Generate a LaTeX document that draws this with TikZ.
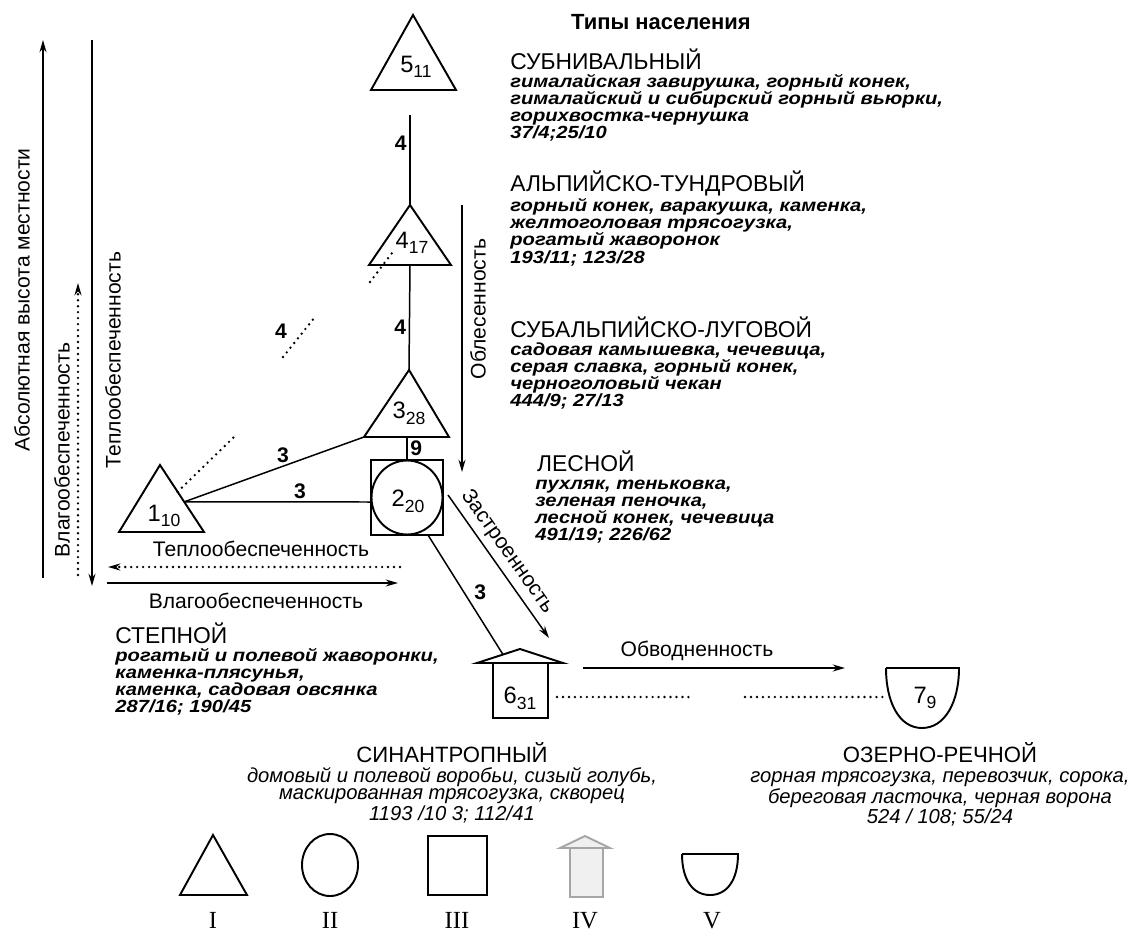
\documentclass[tikz,border=0pt]{standalone}
\usepackage{fontspec}
\setmainfont{Liberation Sans}
\newfontfamily\widefont[FakeStretch=1.15]{Liberation Sans}
\newfontfamily\serifroman{Liberation Serif}
\usetikzlibrary{arrows.meta,calc}

\newcommand{\spf}{\widefont\bfseries\itshape\fontsize{10}{9.8}\selectfont}
\newcommand{\hdf}{\normalfont\fontsize{13}{9.8}\selectfont}
\newcommand{\capf}{\itshape\fontsize{11.5}{9.9}\selectfont}
\newcommand{\caphd}{\upshape\fontsize{12.6}{9.9}\selectfont}
\newcommand{\idxsub}[1]{\raisebox{-0.45ex}{\fontsize{10}{10}\selectfont#1}}

\begin{document}
\begin{tikzpicture}[x=0.02cm,y=-0.02cm,
    figure/.style={line width=1.1pt,line join=miter},
    link/.style={line width=0.85pt},
    dotline/.style={line width=1.5pt,line cap=round,dash pattern=on 0pt off 3.4pt},
    dotarrow/.style={dotline,-{Stealth[length=7pt,width=4pt]}},
    axisarrow/.style={line width=0.85pt,-{Stealth[length=7pt,width=4pt]}},
    num/.style={font=\fontsize{12}{12}\selectfont\bfseries,inner sep=1.5pt},
    idx/.style={font=\fontsize{13.5}{13.5}\selectfont,inner sep=0pt},
    axistext/.style={font=\fontsize{12}{12}\selectfont,inner sep=0pt},
    block/.style={anchor=north west,align=left,inner sep=0pt,font=\spf},
    caption/.style={anchor=north,align=center,inner sep=0pt,font=\capf},
    roman/.style={font=\serifroman\fontsize{14}{14}\selectfont,inner sep=0pt,anchor=base}]

  \useasboundingbox (0,0) rectangle (1146,933);

  % axes on the left
  \coordinate (v1a) at (43,578);
  \coordinate (v1b) at (43,40);
  \coordinate (v2a) at (78,575);
  \coordinate (v2b) at (78,283);
  \coordinate (v3a) at (92,40);
  \coordinate (v3b) at (92,586);
  \coordinate (h1a) at (400,567);
  \coordinate (h1b) at (108,567);
  \coordinate (h2a) at (107,583);
  \coordinate (h2b) at (398,583);

  \draw[axisarrow] (v1a) -- (v1b);
  \node[axistext,rotate=90] (alt) at (22,300) {Абсолютная высота местности};
  \draw[dotarrow] (v2a) -- (v2b);
  \node[axistext,rotate=90] (wetv) at (62,450) {Влагообеспеченность};
  \draw[axisarrow] (v3a) -- (v3b);
  \node[axistext,rotate=90] (heatv) at (113,360) {Теплообеспеченность};
  \draw[dotarrow] (h1a) -- (h1b);
  \node[axistext] (heath) at (261,549) {Теплообеспеченность};
  \draw[axisarrow] (h2a) -- (h2b);
  \node[axistext] (weth) at (256,601) {Влагообеспеченность};

  % population types
  \coordinate (t5) at (413,15);
  \coordinate (t5l) at (371,90);
  \coordinate (t5r) at (456,90);
  \coordinate (t5b) at (410,90);
  \coordinate (t4) at (410,205);
  \coordinate (t4l) at (369,265);
  \coordinate (t4r) at (451,265);
  \coordinate (t4b) at (410,265);
  \coordinate (t3) at (409,370);
  \coordinate (t3l) at (364,437);
  \coordinate (t3r) at (449,437);
  \coordinate (t3b) at (407,437);
  \coordinate (t1) at (160,465);
  \coordinate (t1l) at (119,532);
  \coordinate (t1r) at (204,532);
  \coordinate (t1e) at ($(t1)!0.55!(t1r)$);
  \coordinate (s2a) at (371,460);
  \coordinate (s2c) at (443,535);
  \coordinate (s2) at (407,497.5);
  \coordinate (s2t) at (407,460);
  \coordinate (s2w) at (371,502);
  \coordinate (s2s) at (428,535);
  \coordinate (h6l) at (477,663);
  \coordinate (h6p) at (520,649);
  \coordinate (h6r) at (563,663);
  \coordinate (h6a) at (493,663);
  \coordinate (h6c) at (548,718);
  \coordinate (h6w) at (503,654.5);
  \coordinate (b7l) at (886,668);
  \coordinate (b7r) at (959,668);
  \coordinate (b7) at (922,728);

  \draw[figure] (t5)--(t5l)--(t5r)--cycle;
  \draw[figure] (t4)--(t4l)--(t4r)--cycle;
  \draw[figure] (t3)--(t3l)--(t3r)--cycle;
  \draw[figure] (t1)--(t1l)--(t1r)--cycle;
  \draw[figure] (s2a) rectangle (s2c);
  \draw[figure] (s2) ellipse [x radius=35.5, y radius=37];
  \draw[figure] (h6a) rectangle (h6c);
  \draw[figure] (h6l)--(h6p)--(h6r)--cycle;
  \draw[figure] (b7l) -- (b7r) .. controls (959,702) and (945,728) .. (b7)
    .. controls (899,728) and (886,702) .. (b7l);

  \node[idx] (n5) at (416,67) {5\idxsub{11}};
  \node[idx] (n4) at (412,243) {4\idxsub{17}};
  \node[idx] (n3) at (409,413) {3\idxsub{28}};
  \node[idx] (n1) at (164,516) {1\idxsub{10}};
  \node[idx] (n2) at (408,501) {2\idxsub{20}};
  \node[idx] (n6) at (520,698) {6\idxsub{31}};
  \node[idx] (n7) at (925,698) {7\idxsub{9}};

  % links
  \draw[link,shorten <=0.5cm] (t5b) -- (t4) node[num,left,pos=0.46] {4};
  \draw[link] (t4b) -- (t3) node[num,left,pos=0.59] {4};
  \draw[link] (t1e) -- (t3l) node[num,above,pos=0.55] {3};
  \draw[link] (t1e) -- (s2w) node[num,above,pos=0.62] {3};
  \draw[link] (t3b) -- (s2t) node[num,right,midway] {9};
  \draw[link] (s2s) -- (h6w) node[num,right=4pt,pos=0.48] {3};

  % broken link 1 -- 4
  \coordinate (p1) at ($(t1)!0.4!(t1r)$);
  \coordinate (p2) at (234,437);
  \coordinate (p3) at (283,357);
  \coordinate (p4) at (315,317);
  \coordinate (p5) at (370,282);
  \coordinate (p6) at (392,253);
  \draw[dotline] (p1) -- (p2);
  \draw[dotline] (p3) -- (p4);
  \draw[dotline] (p5) -- (p6);
  \node[num] (l14) at (281,331) {4};

  % gradients
  \coordinate (o1) at (462,205);
  \coordinate (o2) at (462,472);
  \draw[axisarrow] (o1) -- (o2);
  \node[axistext,rotate=90] (forest) at (478,309) {Облесенность};
  \coordinate (z1) at (448,495);
  \coordinate (z2) at (549,638);
  \draw[axisarrow] (z1) -- (z2) node[axistext,sloped,above=3pt,pos=0.46] {Застроенность};
  \coordinate (w1) at (583,668);
  \coordinate (w2) at (845,668);
  \draw[axisarrow] (w1) -- (w2);
  \node[axistext] (water) at (697,651) {Обводненность};
  \coordinate (q1) at (557,697);
  \coordinate (q2) at (690,697);
  \coordinate (q3) at (745,697);
  \coordinate (q4) at (885,697);
  \draw[dotline] (q1) -- (q2);
  \draw[dotline] (q3) -- (q4);

  % texts
  \node[font=\fontsize{12.5}{12.5}\selectfont\bfseries] (title) at (661,22) {Типы населения};
  \node[block] (subniv) at (510,49) {{\hdf СУБНИВАЛЬНЫЙ}\\
    гималайская завирушка, горный конек,\\
    гималайский и сибирский горный вьюрки,\\
    горихвостка-чернушка\\
    37/4;25/10};
  \node[block] (alpine) at (510,171) {{\hdf АЛЬПИЙСКО-ТУНДРОВЫЙ}\\
    горный конек, варакушка, каменка,\\
    желтоголовая трясогузка,\\
    рогатый жаворонок\\
    193/11; 123/28};
  \node[block] (subalp) at (510,317) {{\hdf СУБАЛЬПИЙСКО-ЛУГОВОЙ}\\
    садовая камышевка, чечевица,\\
    серая славка, горный конек,\\
    черноголовый чекан\\
    444/9; 27/13};
  \node[block] (forestt) at (535,451) {{\hdf\hspace{1pt}ЛЕСНОЙ}\\
    пухляк, теньковка,\\
    зеленая пеночка,\\
    лесной конек, чечевица\\
    491/19; 226/62};
  \node[block] (steppe) at (115,623) {{\hdf СТЕПНОЙ}\\
    рогатый и полевой жаворонки,\\
    каменка-плясунья,\\
    каменка, садовая овсянка\\
    287/16; 190/45};
  \node[caption] (synan) at (452,742) {{\caphd СИНАНТРОПНЫЙ}\\[1.5pt]
    домовый и полевой воробьи, сизый голубь,\\
    маскированная трясогузка, скворец\\
    1193 /10 3; 112/41};
  \node[caption] (lake) at (940,742) {{\caphd ОЗЕРНО-РЕЧНОЙ}\\[1.5pt]
    горная трясогузка, перевозчик, сорока,\\
    береговая ласточка, черная ворона\\
    524 / 108; 55/24};

  % legend
  \coordinate (lt) at (213,835);
  \coordinate (ltl) at (180,895);
  \coordinate (ltr) at (247,895);
  \draw[figure] (lt)--(ltl)--(ltr)--cycle;
  \node[roman] (r1) at (213,928) {I};
  \coordinate (lc) at (330,865);
  \draw[figure] (lc) ellipse [x radius=28, y radius=31];
  \node[roman] (r2) at (330,928) {II};
  \coordinate (lsa) at (428,836);
  \coordinate (lsc) at (487,895);
  \draw[figure] (lsa) rectangle (lsc);
  \node[roman] (r3) at (457,928) {III};
  \coordinate (lha) at (570,848);
  \coordinate (lhc) at (603,897);
  \draw[figure,draw=gray!70,fill=gray!12] (lha) rectangle (lhc);
  \draw[figure,draw=gray!70,fill=gray!12] (560,848)--(585,836)--(610,848)--cycle;
  \node[roman] (r4) at (585,928) {IV};
  \coordinate (lbl) at (682,854);
  \coordinate (lbr) at (738,854);
  \coordinate (lb) at (710,895);
  \draw[figure] (lbl) -- (lbr) .. controls (738,880) and (727,895) .. (lb)
    .. controls (693,895) and (682,880) .. (lbl);
  \node[roman] (r5) at (712,928) {V};
\end{tikzpicture}
\end{document}
